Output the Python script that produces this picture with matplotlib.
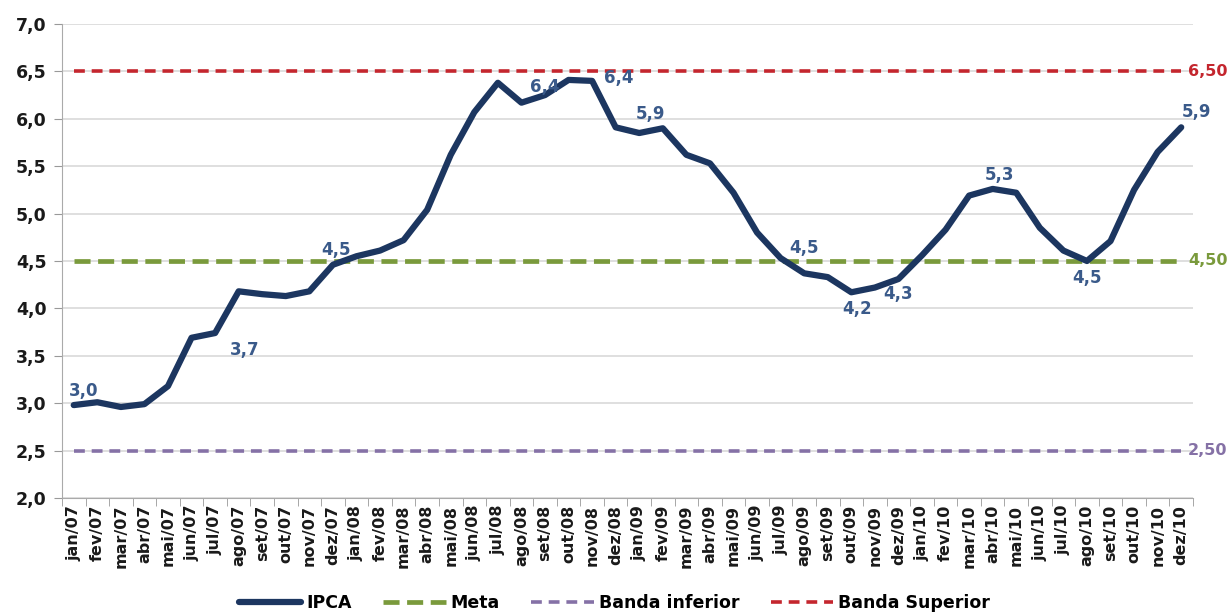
import matplotlib.pyplot as plt
import numpy as np

# monthly IPCA (12m accumulated), jan/07 .. dez/10
meses = ['jan', 'fev', 'mar', 'abr', 'mai', 'jun', 'jul', 'ago', 'set', 'out', 'nov', 'dez']
anos = ['07', '08', '09', '10']
labels = [m + '/' + a for a in anos for m in meses]

ipca = [2.98, 3.01, 2.96, 2.99, 3.18, 3.69, 3.74, 4.18, 4.15, 4.13, 4.18, 4.46,
        4.55, 4.61, 4.72, 5.04, 5.62, 6.07, 6.38, 6.17, 6.25, 6.41, 6.40, 5.91,
        5.85, 5.90, 5.62, 5.53, 5.22, 4.80, 4.53, 4.37, 4.33, 4.17, 4.22, 4.31,
        4.56, 4.83, 5.19, 5.26, 5.22, 4.85, 4.61, 4.50, 4.71, 5.25, 5.65, 5.91]
meta = 4.5
banda_inf = 2.5
banda_sup = 6.5

# annotated points: (index, text, dx, dy) offsets in points
anotacoes = [(0, '3,0', 7, 10), (6, '3,7', 21, -12), (11, '4,5', 2, 11),
             (19, '6,4', 17, 11), (22, '6,4', 19, 2), (25, '5,9', -9, 10),
             (30, '4,5', 17, 7), (33, '4,2', 4, -12), (35, '4,3', 0, -11),
             (39, '5,3', 5, 10), (43, '4,5', 0, -12), (47, '5,9', 11, 11)]

navy = '#1c3660'
lbl_color = '#3a5a8a'
verde = '#7a9a3c'
roxo = '#8571a6'
vermelho = '#c4262e'

fig = plt.figure(figsize=(12.29, 6.12), dpi=100)
ax = fig.add_axes([0.0504, 0.1863, 0.9203, 0.7745])

x = np.arange(len(labels))
ax.plot(x, [banda_inf] * len(x), color=roxo, lw=2.6, dashes=(3.0, 1.9), label='Banda inferior', zorder=2)
ax.plot(x, [meta] * len(x), color=verde, lw=3.4, dashes=(3.4, 1.6), label='Meta', zorder=2)
ax.plot(x, [banda_sup] * len(x), color=vermelho, lw=2.6, dashes=(3.0, 1.9), label='Banda Superior', zorder=2)
ax.plot(x, ipca, color=navy, lw=4.5, solid_capstyle='round', solid_joinstyle='round', label='IPCA', zorder=3)

for i, txt, dx, dy in anotacoes:
    ax.annotate(txt, (x[i], ipca[i]), xytext=(dx, dy), textcoords='offset points',
                ha='center', va='center', fontsize=12, fontweight='bold', color=lbl_color)

for val, txt, c in [(banda_sup, '6,50', vermelho), (meta, '4,50', verde), (banda_inf, '2,50', roxo)]:
    ax.annotate(txt, (x[-1], val), xytext=(5, 0), textcoords='offset points',
                ha='left', va='center', fontsize=11.5, fontweight='bold', color=c,
                annotation_clip=False)

ax.set_xlim(-0.5, len(x) - 0.5)
ax.set_ylim(2.0, 7.0)
yt = np.arange(2.0, 7.01, 0.5)
ax.set_yticks(yt)
ax.set_yticklabels([f'{v:.1f}'.replace('.', ',') for v in yt], fontsize=12.5, fontweight='bold', color='#1a1a1a')
ax.set_xticks(x)
ax.set_xticklabels(labels, rotation=90, fontsize=11.5, fontweight='bold', color='#1a1a1a')
ax.set_xticks(np.arange(-0.5, len(x), 1), minor=True)
ax.tick_params(axis='x', which='major', length=0, pad=5)
ax.tick_params(axis='x', which='minor', length=6, color='#999999')
ax.tick_params(axis='y', length=6, color='#999999', pad=5)
ax.grid(axis='y', color='#d9d9d9', lw=1.2)
ax.set_axisbelow(True)
for s in ['top', 'right']:
    ax.spines[s].set_visible(False)
ax.spines['left'].set_color('#aaaaaa')
ax.spines['bottom'].set_color('#aaaaaa')

h, l = ax.get_legend_handles_labels()
order = [3, 1, 0, 2]
fig.legend([h[k] for k in order], [l[k] for k in order], loc='center', bbox_to_anchor=(0.5, 0.014),
           ncol=4, frameon=False, handlelength=3.6, columnspacing=1.8, handletextpad=0.3,
           prop={'size': 12.5, 'weight': 'bold'})

fig.savefig('out.png', dpi=100)
